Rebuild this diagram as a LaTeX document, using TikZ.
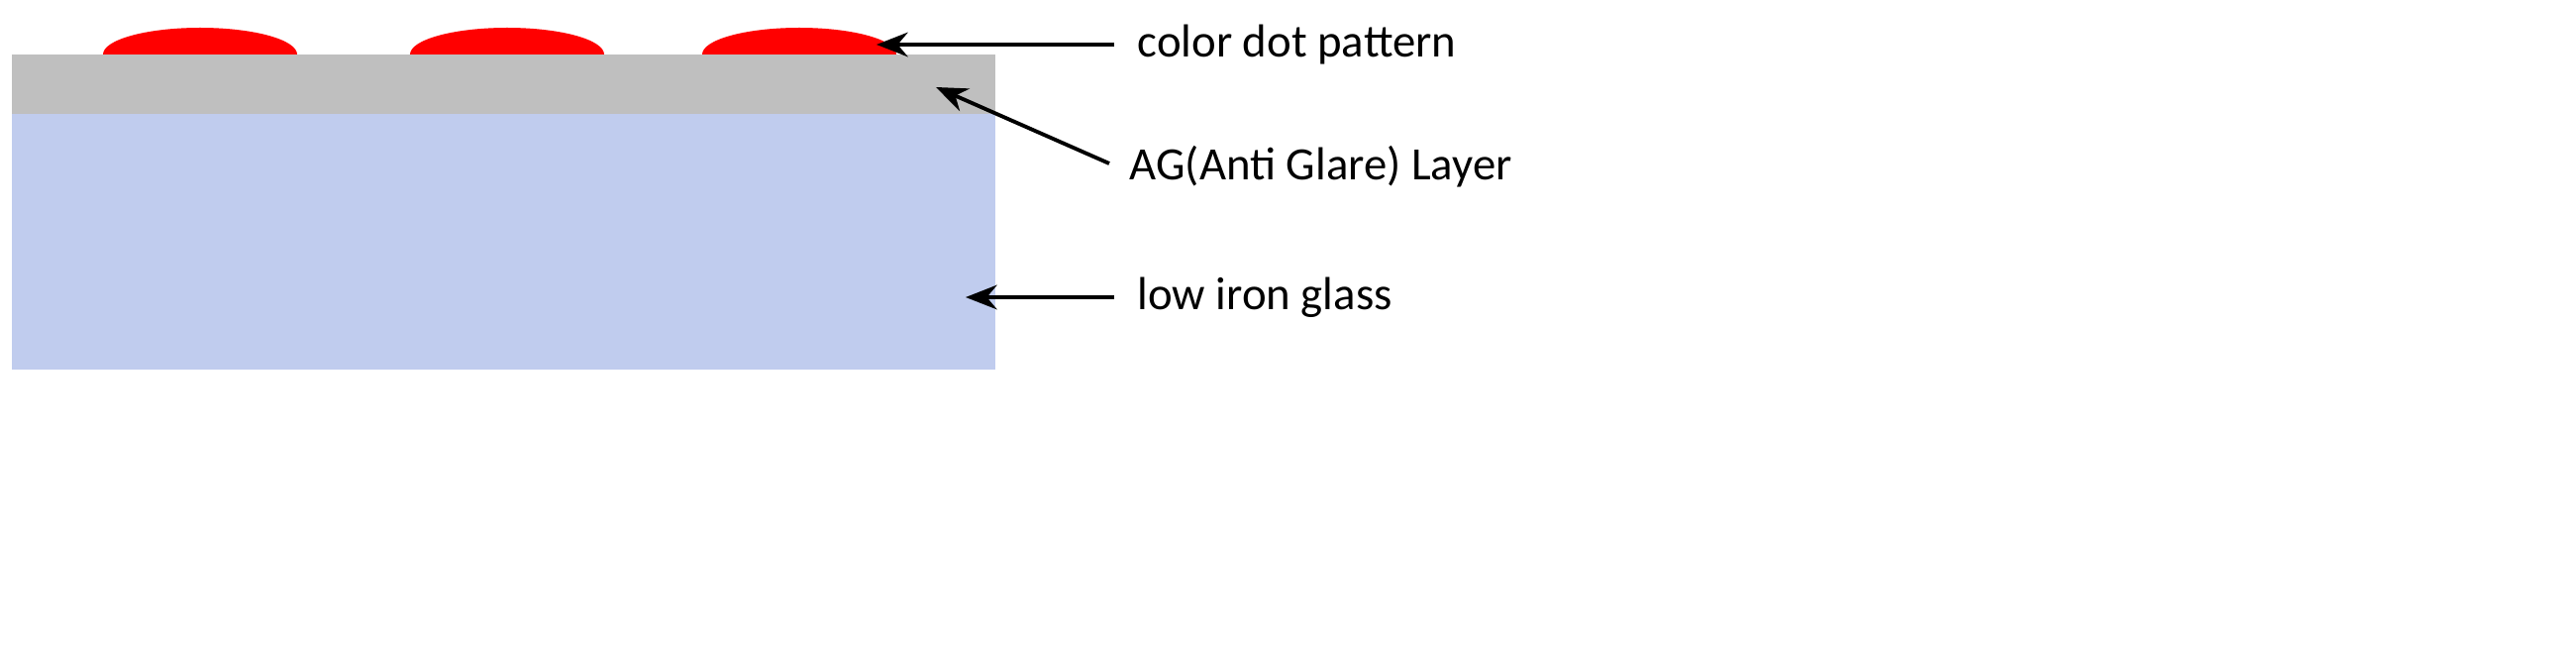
\documentclass[tikz,border=0pt]{standalone}
\usepackage{fontspec}
\setmainfont{Carlito}
\usetikzlibrary{arrows.meta}
\definecolor{glass}{RGB}{192,204,238}
\definecolor{ag}{RGB}{191,191,191}
\begin{document}
\begin{tikzpicture}[x=0.01cm,y=-0.01cm,
  lbl/.style={anchor=west,inner sep=0pt,font=\fontsize{13.3}{15}\selectfont},
  arr/.style={-{Stealth[length=9pt,width=7pt]},line width=1.1pt}]
\useasboundingbox (0,0) rectangle (2601,655);
\fill[glass] (12,115) rectangle (1005,373);
\fill[ag] (12,55) rectangle (1005,115);
\foreach \c in {202,512,807}{
  \fill[red] (\c-98,55) arc[start angle=180,end angle=360,x radius=98,y radius=27] -- cycle;}
\node[lbl] (t1) at (1148,45) {color dot pattern};
\node[lbl] (t2) at (1140,168) {AG(Anti Glare) Layer};
\node[lbl] (t3) at (1148,300) {low iron glass};
\coordinate (a1) at (885,45);
\coordinate (a2) at (945,88);
\coordinate (a3) at (975,300);
\coordinate (s1) at (1125,45);
\coordinate (s2) at (1120,165);
\coordinate (s3) at (1125,300);
\draw[arr] (s1) -- (a1);
\draw[arr] (s2) -- (a2);
\draw[arr] (s3) -- (a3);
\end{tikzpicture}
\end{document}
